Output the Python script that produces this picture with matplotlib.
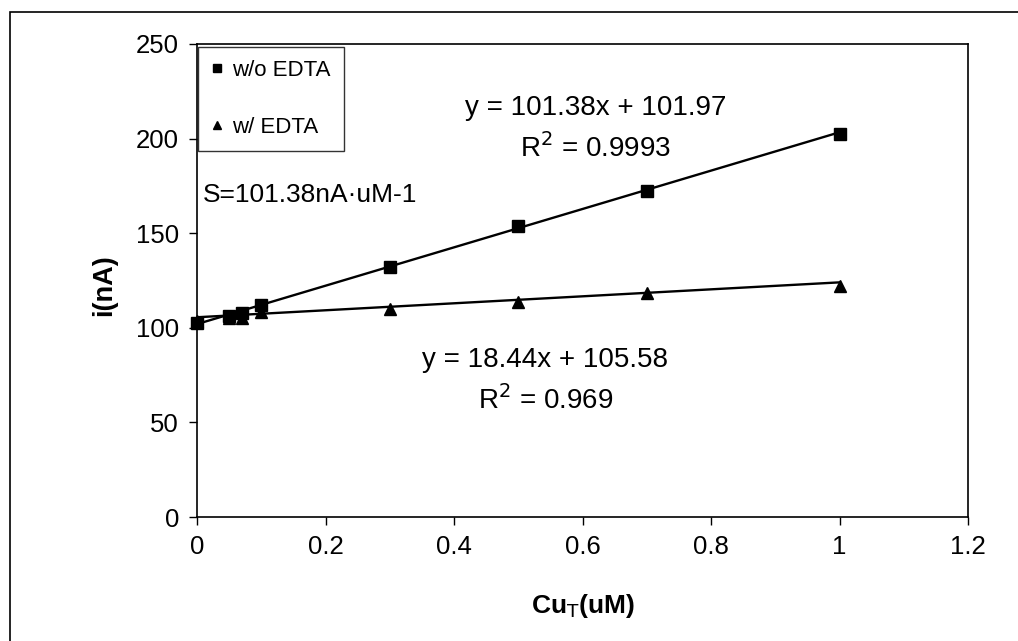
import numpy as np
import matplotlib.pyplot as plt
from matplotlib.patches import Rectangle

plt.rcParams['font.family'] = ['Liberation Sans', 'DejaVu Sans']

# Concentration (uM) and measured current (nA)
conc = [0, 0.05, 0.07, 0.1, 0.3, 0.5, 0.7, 1.0]
i_no_edta = [102.5, 106.5, 108, 112, 132, 154, 172.5, 202.5]
i_edta = [103.5, 105, 105, 108.5, 110, 113.5, 118.5, 122]

# Trendline coefficients printed on the chart
fit_no_edta = (101.38, 101.97)
fit_edta = (18.44, 105.58)

fig = plt.figure(figsize=(10.18, 6.41), dpi=100)
ax = fig.add_axes([0.1935, 0.1934, 0.7575, 0.738])

# outer frame of the original figure
fig.patches.append(Rectangle((10 / 1018, -0.1), 1.2, 1 - 12 / 641 + 0.1,
                             transform=fig.transFigure, fill=False,
                             edgecolor='black', linewidth=1.2))

xfit = np.array([0, 1.0])
ax.plot(xfit, fit_no_edta[0] * xfit + fit_no_edta[1], color='black', lw=1.7)
ax.plot(xfit, fit_edta[0] * xfit + fit_edta[1], color='black', lw=1.7)

ax.plot(conc, i_no_edta, 's', color='black', ms=8, label='w/o EDTA', clip_on=False)
ax.plot(conc, i_edta, '^', color='black', ms=9, label='w/ EDTA', clip_on=False)

ax.set_xlim(0, 1.2)
ax.set_ylim(0, 250)
ax.set_xticks([0, 0.2, 0.4, 0.6, 0.8, 1, 1.2])
ax.set_xticklabels(['0', '0.2', '0.4', '0.6', '0.8', '1', '1.2'])
ax.set_yticks([0, 50, 100, 150, 200, 250])
ax.tick_params(labelsize=18.5, length=6, width=1, direction='out', pad=7)
for s in ax.spines.values():
    s.set_linewidth(1.2)

ax.set_xlabel('Cu$_\\mathrm{T}$(uM)', fontsize=19, fontweight='bold', va='center')
ax.xaxis.set_label_coords(0.5, -0.188)
ax.set_ylabel('i(nA)', fontsize=19.5, fontweight='bold', va='center')
ax.yaxis.set_label_coords(-0.12, 0.49)

leg = ax.legend(loc='upper left', bbox_to_anchor=(0.001, 0.994), fontsize=16,
                frameon=True, fancybox=False, edgecolor='black',
                handlelength=0.5, handletextpad=0.45, labelspacing=1.6,
                markerscale=0.65, borderpad=0.6, borderaxespad=0)
leg.get_frame().set_linewidth(1.0)

ax.text(0.62, 216, 'y = 101.38x + 101.97', fontsize=20, ha='center', va='center')
ax.text(0.62, 195, 'R$^2$ = 0.9993', fontsize=20, ha='center', va='center')
ax.text(0.542, 83, 'y = 18.44x + 105.58', fontsize=20, ha='center', va='center')
ax.text(0.542, 62, 'R$^2$ = 0.969', fontsize=20, ha='center', va='center')
ax.text(0.009, 170, 'S=101.38nA\u00b7uM-1', fontsize=19, ha='left', va='center')

fig.savefig('out.png', dpi=100)
